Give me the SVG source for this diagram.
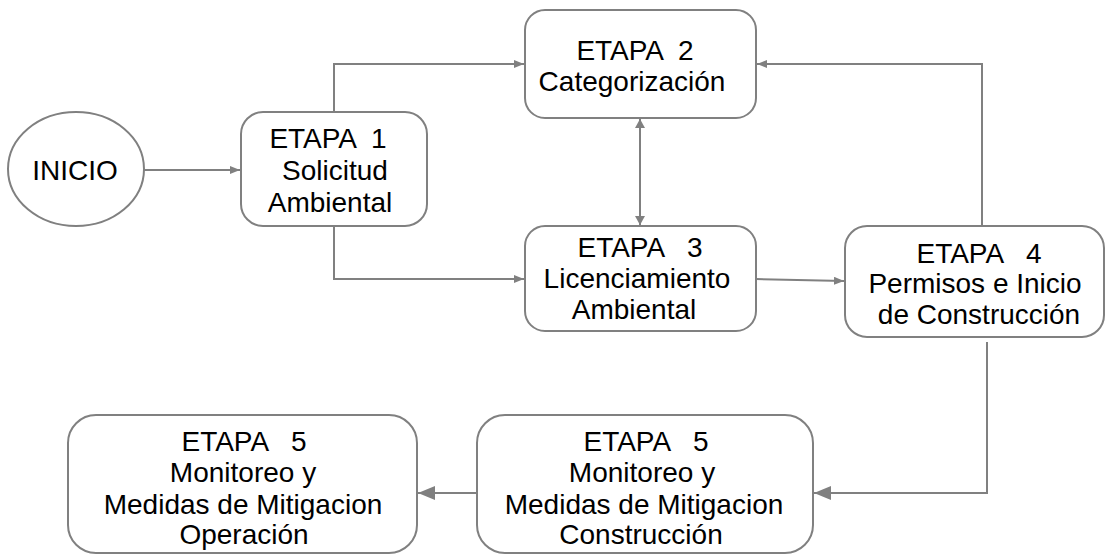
<svg xmlns="http://www.w3.org/2000/svg" width="1106" height="555" viewBox="0 0 1106 555">
<defs>
<style>
.box{fill:#fff;stroke:#808080;stroke-width:2}
.ln{fill:none;stroke:#808080;stroke-width:2}
text{font-family:"Liberation Sans",Arial,sans-serif;font-size:28px;fill:#000;text-anchor:middle;white-space:pre}
</style>
<marker id="a" markerUnits="userSpaceOnUse" markerWidth="10" markerHeight="8" refX="10" refY="4" orient="auto"><path d="M0,0 L10,4 L0,8 z" fill="#808080"/></marker>
<marker id="as" markerUnits="userSpaceOnUse" markerWidth="10" markerHeight="10" refX="9" refY="5" orient="auto-start-reverse"><path d="M0,0 L9,5 L0,10 z" fill="#808080"/></marker>
<marker id="b" markerUnits="userSpaceOnUse" markerWidth="18" markerHeight="14" refX="17" refY="7" orient="auto"><path d="M0,0 L17,7 L0,14 z" fill="#808080"/></marker>
</defs>
<g id="connectors">
<line class="ln" x1="144" y1="170" x2="240" y2="170" marker-end="url(#a)"/>
<path class="ln" d="M334 112 V64 H524" marker-end="url(#a)"/>
<path class="ln" d="M334 226 V279 H524" marker-end="url(#a)"/>
<line class="ln" x1="640" y1="119" x2="640" y2="225" marker-start="url(#as)" marker-end="url(#as)"/>
<line class="ln" x1="756" y1="279" x2="844" y2="281" marker-end="url(#a)"/>
<path class="ln" d="M982 226 V64 H757" marker-end="url(#a)"/>
<path class="ln" d="M987 342 V493 H814" marker-end="url(#b)"/>
<line class="ln" x1="477" y1="493" x2="418" y2="493" marker-end="url(#b)"/>
</g>
<g id="inicio">
<ellipse class="box" cx="76" cy="169" rx="68" ry="57"/>
<text x="75" y="180">INICIO</text>
</g>
<g id="etapa1">
<rect class="box" x="241" y="112" width="186" height="114" rx="22"/>
<text x="328" y="148">ETAPA  1</text>
<text x="335" y="180">Solicitud</text>
<text x="330" y="212">Ambiental</text>
</g>
<g id="etapa2">
<rect class="box" x="525" y="10" width="231" height="108" rx="20"/>
<text x="635" y="60">ETAPA  2</text>
<text x="632" y="91">Categorización</text>
</g>
<g id="etapa3">
<rect class="box" x="525" y="226" width="231" height="105" rx="20"/>
<text x="640" y="257">ETAPA   3</text>
<text x="637" y="288">Licenciamiento</text>
<text x="634" y="319">Ambiental</text>
</g>
<g id="etapa4">
<rect class="box" x="845" y="226" width="259" height="111" rx="22"/>
<text x="979" y="263">ETAPA   4</text>
<text x="975" y="293">Permisos e Inicio</text>
<text x="979" y="324">de Construcción</text>
</g>
<g id="etapa5-construccion">
<rect class="box" x="477" y="415" width="336" height="138" rx="28"/>
<text x="646" y="451">ETAPA   5</text>
<text x="642" y="482">Monitoreo y</text>
<text x="644" y="514">Medidas de Mitigacion</text>
<text x="641" y="544">Construcción</text>
</g>
<g id="etapa5-operacion">
<rect class="box" x="68" y="415" width="349" height="138" rx="28"/>
<text x="244" y="451">ETAPA   5</text>
<text x="243" y="482">Monitoreo y</text>
<text x="243" y="514">Medidas de Mitigacion</text>
<text x="244" y="544">Operación</text>
</g>
</svg>
